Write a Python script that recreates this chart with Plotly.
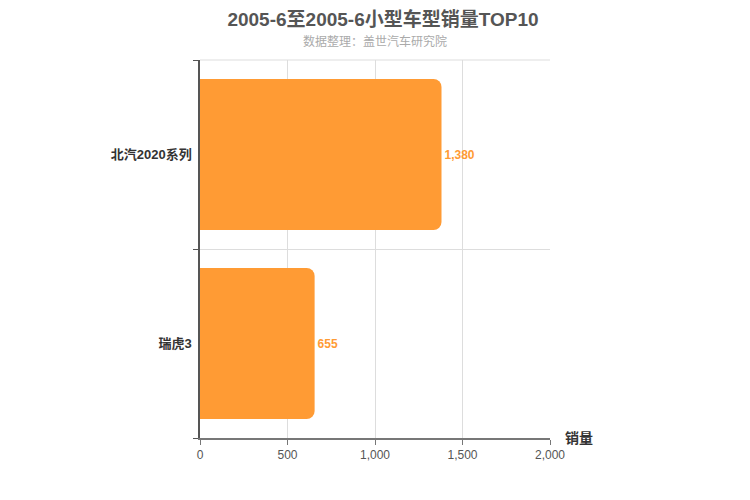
import plotly.graph_objects as go

categories = ["瑞虎3", "北汽2020系列"]
sales = [655, 1380]
x_ticks = [0, 500, 1000, 1500, 2000]
x_tick_labels = ["0", "500", "1,000", "1,500", "2,000"]

font_family = "Liberation Sans, Noto Sans CJK SC, sans-serif"

fig = go.Figure(go.Bar(
    y=categories,
    x=sales,
    orientation="h",
    marker=dict(color="#FF9B34", line=dict(width=0)),
    width=0.8,
    text=[f"<b>{v:,}</b>" for v in sales],
    textposition="outside",
    textfont=dict(color="#FF9B34", size=12, family=font_family),
    cliponaxis=False,
))

fig.update_layout(
    width=750, height=500,
    margin=dict(l=192, r=208, t=52, b=70),
    paper_bgcolor="white", plot_bgcolor="white",
    barcornerradius=8,
    showlegend=False,
    title=dict(text="<b>2005-6至2005-6小型车型销量TOP10</b>", x=0.5, xanchor="center",
               y=0.977, yanchor="middle",
               font=dict(size=19, color="#555555", family=font_family)),
    font=dict(family=font_family),
    shapes=[
        dict(type="line", xref="paper", yref="paper", x0=0, x1=1, y0=1, y1=1,
             line=dict(color="#DDDDDD", width=1), layer="below"),
    ],
    annotations=[
        dict(text="数据整理：盖世汽车研究院", x=0.5, xref="paper", y=1.0, yref="paper",
             yshift=19, yanchor="middle", showarrow=False,
             font=dict(size=12, color="#AAAAAA", family=font_family)),
        dict(text="<b>销量</b>", x=1.0, xref="paper", y=0, yref="paper", xanchor="left",
             yanchor="middle", xshift=13, showarrow=False,
             font=dict(size=14, color="#333333", family=font_family)),
    ],
)

fig.update_xaxes(
    range=[0, 2000], tickvals=x_ticks, ticktext=x_tick_labels,
    showgrid=True, gridcolor="#DDDDDD", gridwidth=1,
    showline=True, linecolor="#777777", linewidth=2,
    ticks="outside", ticklen=5, tickcolor="#777777",
    tickfont=dict(size=12, color="#555555"),
    zeroline=False, mirror=False,
)
fig.update_yaxes(
    type="category", categoryorder="array", categoryarray=categories,
    showgrid=True, gridcolor="#DDDDDD", gridwidth=1,
    showline=True, linecolor="#555555", linewidth=1.5,
    ticks="outside", ticklen=5, tickcolor="#555555", tickson="boundaries",
    tickfont=dict(size=13, color="#333333"),
    ticklabelstandoff=4,
)
fig.for_each_yaxis(lambda a: a.update(tickprefix="<b>", ticksuffix="</b>"))

fig.write_html("out.html")
